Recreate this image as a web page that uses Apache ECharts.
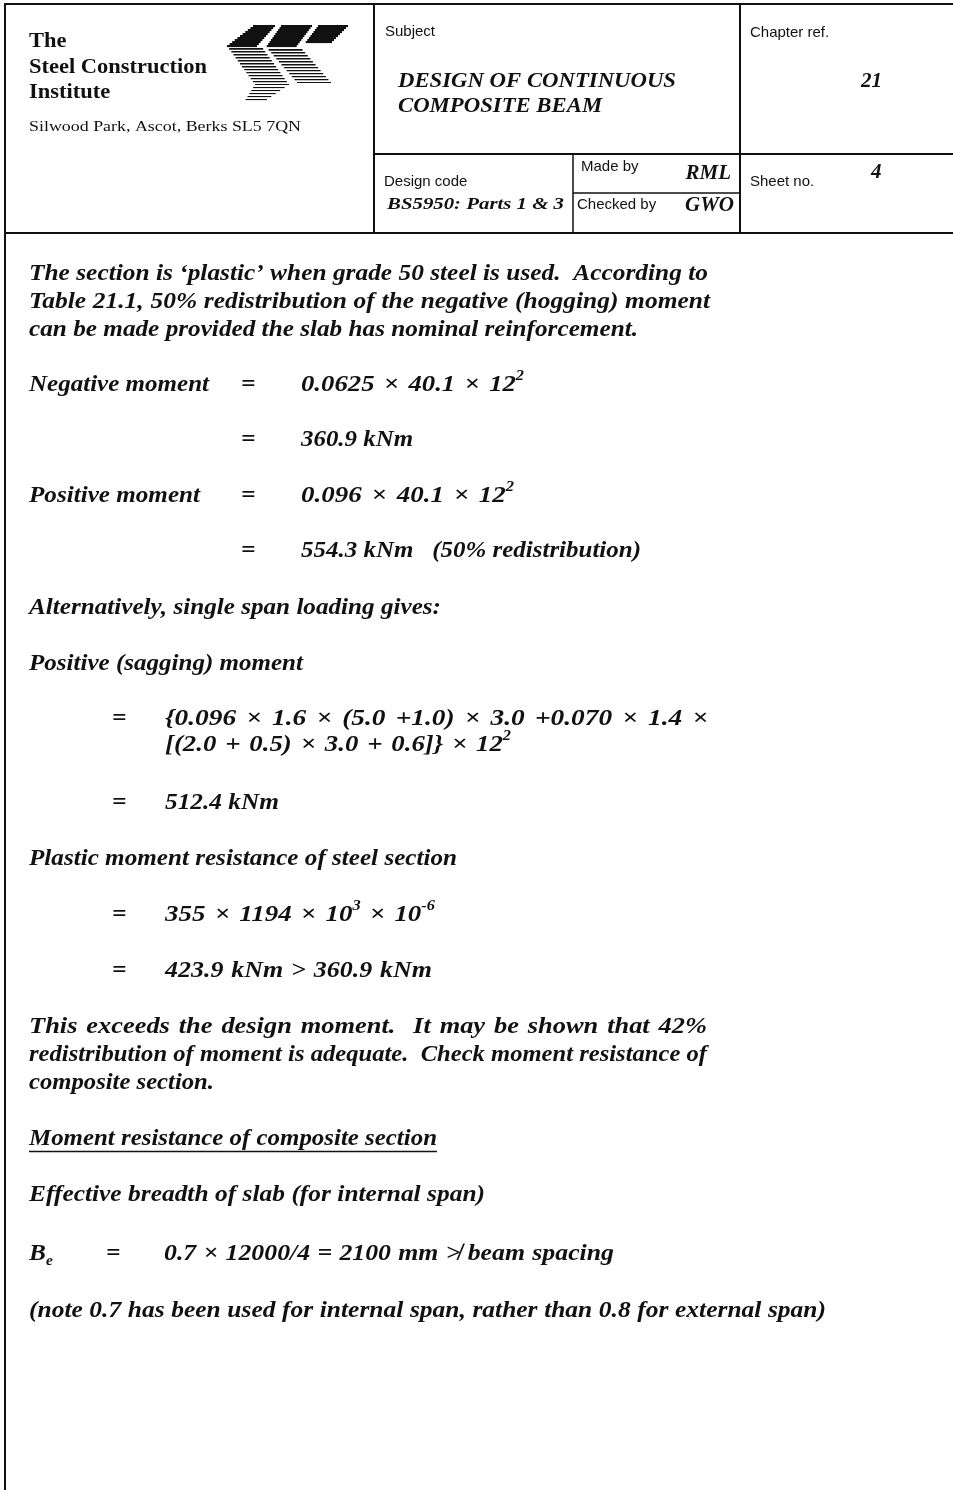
<!DOCTYPE html>
<html>
<head>
<meta charset="utf-8">
<title>Design of continuous composite beam - sheet 4</title>
<script src="https://cdn.jsdelivr.net/npm/echarts@6/dist/echarts.min.js"></script>
<style>
  html, body { margin: 0; padding: 0; background: #fff; }
  #sheet { width: 953px; height: 1490px; }
</style>
</head>
<body>
<div id="sheet"></div>
<script>
// header texts
const instituteLines = ['The', 'Steel Construction', 'Institute'];
const instituteAddress = 'Silwood Park, Ascot, Berks SL5 7QN';
const subjectLines = ['DESIGN OF CONTINUOUS', 'COMPOSITE BEAM'];
const chapterRef = '21';
const designCode = 'BS5950: Parts 1 & 3';
const madeBy = 'RML';
const checkedBy = 'GWO';
const sheetNo = '4';
const headerLabels = ['Subject', 'Chapter ref.', 'Design code', 'Made by', 'Checked by', 'Sheet no.'];

// body texts  (^(..) superscript, _(..) subscript)
const introLines = [
    'The section is \u2018plastic\u2019 when grade 50 steel is used.  According to',
    'Table 21.1, 50% redistribution of the negative (hogging) moment',
    'can be made provided the slab has nominal reinforcement.'
];
const momentLabels = ['Negative moment', '', 'Positive moment', ''];
const momentValues = ['0.0625 \u00d7 40.1 \u00d7 12^(2)', '360.9 kNm', '0.096 \u00d7 40.1 \u00d7 12^(2)', '554.3 kNm   (50% redistribution)'];
const altLine = 'Alternatively, single span loading gives:';
const saggingTitle = 'Positive (sagging) moment';
const saggingLines = ['{0.096 \u00d7 1.6 \u00d7 (5.0 +1.0) \u00d7 3.0 +0.070 \u00d7 1.4 \u00d7', '[(2.0 + 0.5) \u00d7 3.0 + 0.6]} \u00d7 12^(2)'];
const saggingResult = '512.4 kNm';
const plasticTitle = 'Plastic moment resistance of steel section';
const plasticValues = ['355 \u00d7 1194 \u00d7 10^(3) \u00d7 10^(-6)', '423.9 kNm > 360.9 kNm'];
const exceedLines = [
    'This exceeds the design moment.  It may be shown that 42%',
    'redistribution of moment is adequate.  Check moment resistance of',
    'composite section.'
];
const compositeHeading = 'Moment resistance of composite section';
const breadthTitle = 'Effective breadth of slab (for internal span)';
const breadthLabel = 'B_(e)';
const breadthValue = '0.7 \u00d7 12000/4 = 2100 mm \u226f beam spacing';
const noteLine = '(note 0.7 has been used for internal span, rather than 0.8 for external span)';

const INK = '#111';
const SERIF = '"Liberation Serif", "DejaVu Serif", serif';
const SANS = '"Liberation Sans", Arial, sans-serif';

const ctx = document.createElement('canvas').getContext('2d');
const elements = [];

function fontStr(o) {
    return (o.style || 'normal') + ' ' + (o.weight || 'normal') + ' ' + o.size + 'px ' + o.family;
}
function measure(s, o) {
    ctx.font = fontStr(o);
    return ctx.measureText(s).width;
}
function parseRuns(str) {
    const out = [];
    str.split(/(\^\([^)]*\)|_\([^)]*\))/).forEach(function (p) {
        if (!p) return;
        if (p[0] === '^' && p[1] === '(') out.push({ t: p.slice(2, -1), kind: 'sup' });
        else if (p[0] === '_' && p[1] === '(') out.push({ t: p.slice(2, -1), kind: 'sub' });
        else out.push({ t: p, kind: '' });
    });
    return out;
}
function runFont(o, kind) {
    return Object.assign({}, o, { size: kind ? Math.round(o.size * 0.6) : o.size });
}
function lineWidth(str, o) {
    let w = 0;
    parseRuns(str).forEach(function (r) { w += measure(r.t, runFont(o, r.kind)); });
    return w;
}
// put one line of text; o.w = target width, shared between glyph scale and spaces when o.justify
function put(str, x, y, o) {
    const nat = lineWidth(str, o);
    let sx = o.sx || 1;
    let extra = 0;
    if (o.w) {
        const spaces = (str.match(/ /g) || []).length;
        const gap = o.w - nat * sx;
        if (o.justify && spaces && gap > 0) {
            sx = sx + 0.5 * gap / nat;
            extra = (o.w - nat * sx) / spaces;
        } else {
            sx = o.w / nat;
        }
    }
    let cx = x;
    if (o.align === 'right') cx = x - nat * sx;
    const x0 = cx;
    parseRuns(str).forEach(function (r) {
        const f = runFont(o, r.kind);
        const dy = r.kind === 'sup' ? -o.size * 0.36 : (r.kind === 'sub' ? o.size * 0.3 : 0);
        r.t.split(/( +)/).forEach(function (tok) {
            if (!tok) return;
            if (tok[0] === ' ') {
                cx += measure(tok, f) * sx + extra * tok.length;
                return;
            }
            elements.push({
                type: 'text', x: cx, y: y + dy, scaleX: sx, silent: true,
                style: {
                    text: tok, fill: INK, verticalAlign: 'middle', align: 'left',
                    fontSize: f.size, fontFamily: f.family, fontStyle: f.style || 'normal', fontWeight: f.weight || 'normal'
                }
            });
            cx += measure(tok, f) * sx;
        });
    });
    return { x0: x0, x1: cx };
}
// body line set between x and its right edge
function putTo(str, x, right, y) {
    return put(str, x, y, Object.assign({}, body, { w: right - x, justify: true }));
}
function rule(x1, y1, x2, y2, w) {
    elements.push({ type: 'line', silent: true, shape: { x1: x1, y1: y1, x2: x2, y2: y2 }, style: { stroke: INK, lineWidth: w || 2 } });
}
function bar(x, y, w, h) {
    elements.push({ type: 'rect', silent: true, shape: { x: x, y: y, width: w, height: h }, style: { fill: INK } });
}

// ---------- frame ----------
rule(5, 4, 953, 4, 2);
rule(5, 3, 5, 1490, 2);
rule(5, 233, 953, 233, 2);
rule(374, 4, 374, 233, 2);
rule(740, 4, 740, 233, 2);
rule(374, 154, 953, 154, 2);
rule(573, 154, 573, 233, 1.5);
rule(573, 193, 740, 193, 1.5);

// ---------- logo (striped chevrons) ----------
// upper arm: solid slanted block, lower arm: thinning stripes
function chevron(c) {
    for (let y = 25; y <= c.vy; y += 2) {
        const t = (y - 25) / (c.vy - 25);
        const l = c.topL + (c.vx - c.topL) * t;
        const r = c.topR + (c.vx + c.len - c.topR) * t;
        bar(l, y, r - l, 2.1);
    }
    if (!c.endY) return;
    for (let y = c.vy + 3; y <= c.endY; y += 3) {
        const t = (y - c.vy) / (c.endY - c.vy);
        const l = c.vx + (c.endX - c.vx) * t;
        bar(l, y, c.len + 4, 1.7 - 0.6 * t);
    }
    if (!c.tailY) return;
    for (let y = c.endY + 3; y <= c.tailY; y += 3) {
        const t = (y - c.endY) / (c.tailY - c.endY);
        const l = c.endX + (c.tailX - c.endX) * t;
        bar(l, y, (c.len + 4) * (1 - 0.4 * t), 1.1);
    }
}
chevron({ topL: 253, topR: 275, vx: 227, vy: 45, len: 30, endX: 255, endY: 84, tailX: 245, tailY: 100 });
chevron({ topL: 281, topR: 312, vx: 266, vy: 46, len: 30, endX: 297, endY: 82 });
chevron({ topL: 318, topR: 348, vx: 305, vy: 42, len: 26 });

// ---------- header text ----------
const brand = { family: SERIF, weight: 'bold', size: 21 };
const brandSx = 178 / lineWidth(instituteLines[1], brand);
instituteLines.forEach(function (s, i) {
    put(s, 29, 42 + i * 25.5, Object.assign({ sx: brandSx }, brand));
});
put(instituteAddress, 29, 127, { family: SERIF, size: 14, w: 272 });

const label = { family: SANS, size: 15 };
put(headerLabels[0], 385, 32, label);
put(headerLabels[1], 750, 33, label);
put(headerLabels[2], 384, 182, label);
put(headerLabels[3], 581, 167, label);
put(headerLabels[4], 577, 205, label);
put(headerLabels[5], 750, 182, label);

const title = { family: SERIF, weight: 'bold', style: 'italic', size: 21 };
const subjSx = 278 / lineWidth(subjectLines[0], title);
put(subjectLines[0], 398, 82, Object.assign({ sx: subjSx }, title));
put(subjectLines[1], 398, 107, Object.assign({ sx: subjSx }, title));
put(chapterRef, 861, 82, title);
put(sheetNo, 871, 173, title);
put(madeBy, 731, 174, Object.assign({ align: 'right' }, title));
put(checkedBy, 734, 206, Object.assign({ align: 'right' }, title));
put(designCode, 387, 205, { family: SERIF, weight: 'bold', style: 'italic', size: 17, w: 177 });

// ---------- body ----------
const body = { family: SERIF, weight: 'bold', style: 'italic', size: 23 };
body.sx = 679 / lineWidth(introLines[0], body);
const L = 29;

// right edges of the lines as set on the sheet
const introRight = [708, 710, 638];
introLines.forEach(function (s, i) { putTo(s, L, introRight[i], 274 + i * 28); });

const momentY = [385, 440, 496, 551];
const labelRight = [209, 0, 200, 0];
const momentRight = [524, 413, 514, 641];
momentValues.forEach(function (s, i) {
    if (momentLabels[i]) putTo(momentLabels[i], L, labelRight[i], momentY[i]);
    put('=', 241, momentY[i], body);
    putTo(s, 301, momentRight[i], momentY[i]);
});

putTo(altLine, L, 441, 608);
putTo(saggingTitle, L, 303, 664);
put('=', 112, 719, body);
putTo(saggingLines[0], 165, 708, 719);
putTo(saggingLines[1], 165, 511, 745);
put('=', 112, 803, body);
putTo(saggingResult, 165, 279, 803);

putTo(plasticTitle, L, 457, 859);
const plasticRight = [435, 432];
[915, 971].forEach(function (y, i) {
    put('=', 112, y, body);
    putTo(plasticValues[i], 165, plasticRight[i], y);
});

const exceedRight = [707, 707, 214];
exceedLines.forEach(function (s, i) { putTo(s, L, exceedRight[i], 1027 + i * 28); });

const hd = putTo(compositeHeading, L, 437, 1139);
rule(hd.x0, 1151.5, hd.x1, 1151.5, 1.6);

putTo(breadthTitle, L, 485, 1195);
put(breadthLabel, L, 1254, body);
put('=', 106, 1254, body);
putTo(breadthValue, 164, 614, 1254);
putTo(noteLine, L, 826, 1311);

const sheet = echarts.init(document.getElementById('sheet'), null, { renderer: 'canvas' });
sheet.setOption({
    backgroundColor: '#fff',
    animation: false,
    graphic: { elements: elements }
});
</script>
</body>
</html>
